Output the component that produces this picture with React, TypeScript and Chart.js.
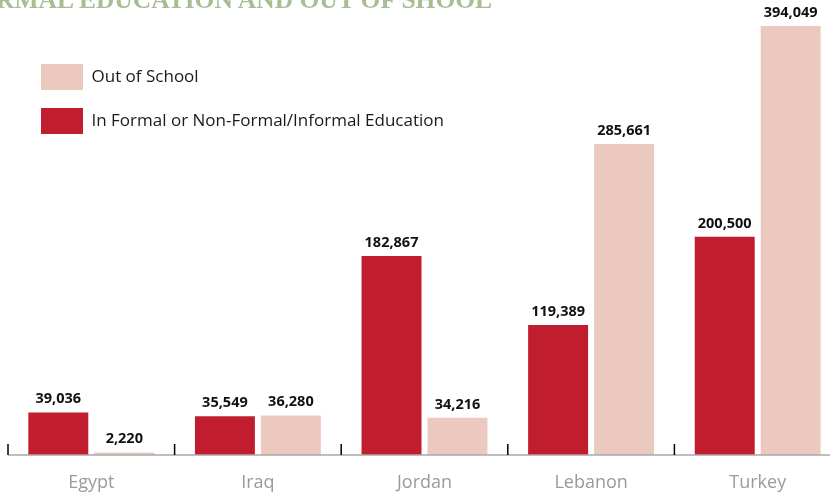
import React, { useEffect, useRef } from "react";
import { Chart, registerables } from "chart.js";

Chart.register(...registerables);

const categories = ["Egypt", "Iraq", "Jordan", "Lebanon", "Turkey"];
const inEducation = [39036, 35549, 182867, 119389, 200500];
const outOfSchool = [2220, 36280, 34216, 285661, 394049];
const seriesLabels = ["In Formal or Non-Formal/Informal Education", "Out of School"];
const seriesColors = ["#c01e2f", "#ecc9bf"];
const titleText = "RMAL EDUCATION AND OUT OF SHOOL";
const yMax = 418000;

const fmt = (v: number) => v.toLocaleString("en-US");

const overlay = {
  id: "overlay",
  afterLayout(chart: any) {
    const lg = chart.legend;
    const area = chart.chartArea;
    if (lg) {
      lg.left = area.left + 15;
      lg.top = area.top + 46;
    }
  },
  afterDatasetsDraw(chart: any) {
    const ctx = chart.ctx;
    const x = chart.scales.x;
    const area = chart.chartArea;
    ctx.save();
    ctx.font = 'bold 14.5px "Open Sans"';
    ctx.fillStyle = "#111";
    ctx.textAlign = "center";
    ctx.textBaseline = "bottom";
    chart.data.datasets.forEach((ds: any, i: number) => {
      chart.getDatasetMeta(i).data.forEach((el: any, j: number) => {
        ctx.fillText(fmt(ds.data[j]), el.x, el.y - 6);
      });
    });
    ctx.strokeStyle = "#a8a8a8";
    ctx.lineWidth = 1.5;
    ctx.beginPath();
    ctx.moveTo(x.getPixelForValue(-0.5), area.bottom);
    ctx.lineTo(chart.width, area.bottom);
    ctx.stroke();
    ctx.strokeStyle = "#000";
    ctx.lineWidth = 1.5;
    for (let i = 0; i <= categories.length; i++) {
      const px = x.getPixelForValue(i - 0.5);
      ctx.beginPath();
      ctx.moveTo(px, area.bottom);
      ctx.lineTo(px, area.bottom - 11);
      ctx.stroke();
    }
    ctx.restore();
  },
};

export default function App() {
  const ref = useRef<HTMLCanvasElement | null>(null);
  useEffect(() => {
    if (!ref.current) return;
    const chart = new Chart(ref.current, {
      type: "bar",
      data: {
        labels: categories,
        datasets: [
          {
            label: seriesLabels[0],
            data: inEducation,
            backgroundColor: seriesColors[0],
            borderWidth: 0,
            categoryPercentage: 0.792,
            barPercentage: 0.909,
          },
          {
            label: seriesLabels[1],
            data: outOfSchool,
            backgroundColor: seriesColors[1],
            borderWidth: 0,
            categoryPercentage: 0.792,
            barPercentage: 0.909,
          },
        ],
      },
      options: {
        responsive: false,
        animation: false,
        layout: { padding: { left: 8, right: 19, top: 0, bottom: 0 } },
        plugins: {
          tooltip: { enabled: false },
          title: { display: false },
          legend: {
            position: "chartArea",
            align: "start",
            reverse: true,
            labels: {
              boxWidth: 42,
              boxHeight: 26,
              padding: 18,
              color: "#1a1a1a",
              font: { family: '"Open Sans"', size: 17 },
            },
          },
        },
        scales: {
          x: {
            grid: { display: false, drawTicks: false },
            border: { display: false },
            ticks: {
              color: "#9a9a9a",
              padding: 17,
              font: { family: '"Open Sans"', size: 18 },
            },
            afterFit: (s: any) => {
              s.height = 41;
            },
          },
          y: {
            display: false,
            min: 0,
            max: yMax,
          },
        },
      },
      plugins: [overlay],
    });
    return () => chart.destroy();
  }, []);

  return (
    <div
      style={{
        position: "fixed",
        left: 0,
        top: 0,
        width: 830,
        height: 496,
        overflow: "hidden",
        background: "#fff",
      }}
    >
      <canvas ref={ref} width={860} height={496} style={{ position: "absolute", left: 0, top: 0 }} />
      <div
        style={{
          position: "absolute",
          left: -4,
          top: -13,
          fontFamily: '"Liberation Serif", serif',
          fontWeight: "bold",
          fontSize: 25.5,
          lineHeight: "25px",
          color: "#a9bd93",
          whiteSpace: "nowrap",
        }}
      >
        {titleText}
      </div>
    </div>
  );
}
